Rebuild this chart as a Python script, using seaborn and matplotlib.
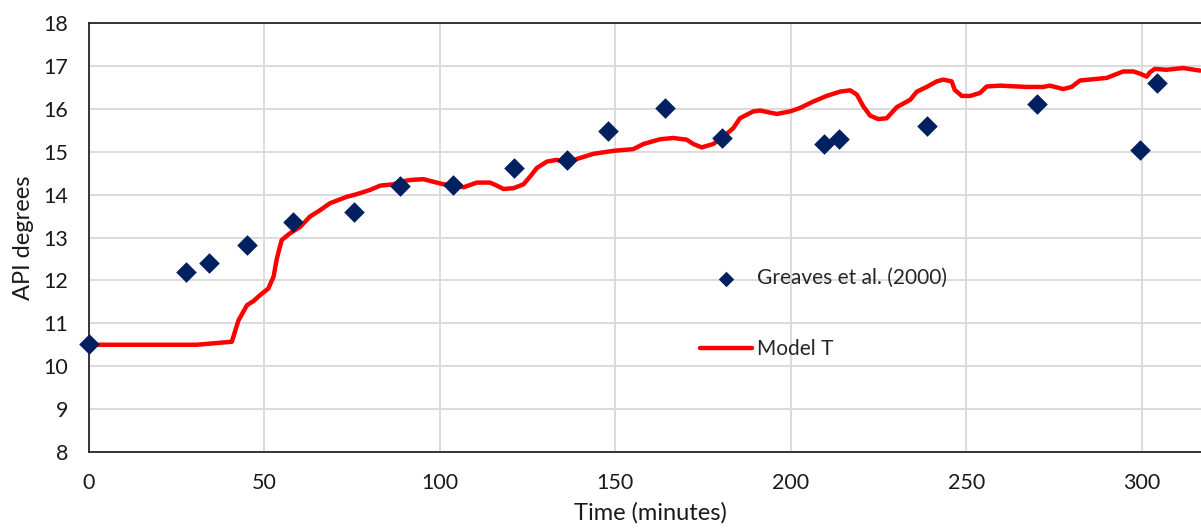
import matplotlib
matplotlib.use("Agg")
import matplotlib.pyplot as plt
import seaborn as sns
import pandas as pd

# Measured API gravity (Greaves et al., 2000)
exp_time = [0.0, 27.7, 34.2, 45.1, 58.2, 75.6, 88.7, 103.8, 121.0, 136.2,
            148.0, 164.2, 180.3, 209.5, 213.7, 238.9, 270.0, 299.4, 304.2]
exp_api = [10.51, 12.19, 12.40, 12.82, 13.36, 13.59, 14.20, 14.22, 14.62, 14.81,
           15.49, 16.03, 15.33, 15.18, 15.29, 15.60, 16.12, 15.03, 16.61]

# Simulated API gravity, Model T
model_time = [0.0, 30.7, 40.7, 42.6, 45.0, 46.9, 48.8, 51.1, 52.6, 53.5, 54.9,
              57.3, 60.2, 63.0, 65.9, 68.7, 73.5, 76.3, 80.1, 83.0, 86.8, 88.6,
              91.5, 95.3, 98.1, 101.0, 103.8, 106.7, 110.5, 114.3, 116.2, 118.1,
              121.0, 123.8, 125.7, 127.6, 130.5, 133.3, 136.2, 139.0, 143.7,
              149.4, 155.1, 158.0, 162.7, 166.5, 170.3, 172.2, 174.6, 177.9,
              180.8, 183.6, 185.5, 189.3, 191.2, 196.0, 199.8, 202.6, 206.4,
              210.2, 214.0, 216.9, 218.8, 220.7, 222.6, 224.9, 227.3, 230.2,
              234.0, 235.9, 238.7, 241.6, 243.4, 245.8, 246.7, 248.7, 251.1,
              253.9, 255.8, 259.6, 267.2, 271.9, 273.8, 277.6, 280.0, 282.4,
              286.2, 290.0, 292.8, 294.7, 297.6, 299.5, 301.4, 302.3, 303.7,
              307.0, 311.8, 316.6]
model_api = [10.50, 10.50, 10.57, 11.07, 11.42, 11.52, 11.66, 11.81, 12.09, 12.50,
             12.94, 13.10, 13.25, 13.49, 13.64, 13.80, 13.95, 14.01, 14.11, 14.21,
             14.24, 14.30, 14.34, 14.36, 14.30, 14.24, 14.23, 14.17, 14.28, 14.28,
             14.21, 14.13, 14.15, 14.24, 14.42, 14.62, 14.77, 14.81, 14.73, 14.83,
             14.95, 15.02, 15.06, 15.18, 15.29, 15.32, 15.28, 15.18, 15.10, 15.18,
             15.35, 15.55, 15.78, 15.94, 15.96, 15.88, 15.94, 16.02, 16.17, 16.30,
             16.40, 16.43, 16.33, 16.05, 15.84, 15.76, 15.78, 16.04, 16.21, 16.40,
             16.51, 16.64, 16.68, 16.64, 16.44, 16.30, 16.30, 16.37, 16.52, 16.54,
             16.51, 16.51, 16.54, 16.46, 16.51, 16.66, 16.69, 16.72, 16.81, 16.87,
             16.87, 16.82, 16.75, 16.85, 16.93, 16.91, 16.95, 16.89]

y_ticks = list(range(8, 19))
x_ticks = [0, 50, 100, 150, 200, 250, 300]

sns.set_theme(style="white")
plt.rcParams["font.family"] = ["Lato", "DejaVu Sans"]

W, H = 1201, 529
fig = plt.figure(figsize=(W / 100, H / 100), dpi=100)
left, right_px, top_px, bottom_px = 89, 1212, 23, 452
ax = fig.add_axes([left / W, 1 - bottom_px / H, (right_px - left) / W,
                   (bottom_px - top_px) / H])

exp_df = pd.DataFrame({"t": exp_time, "api": exp_api})
model_df = pd.DataFrame({"t": model_time, "api": model_api})

sns.lineplot(data=model_df, x="t", y="api", ax=ax, color="#ff0000",
             linewidth=3.2, label="Model T", sort=False, zorder=3)
sns.scatterplot(data=exp_df, x="t", y="api", ax=ax, marker="D", s=110,
                color="#002060", linewidth=0, label="Greaves et al. (2000)",
                zorder=4, clip_on=False)

ax.set_xlim(0, 320)
ax.set_ylim(8, 18)
ax.set_xticks(x_ticks)
ax.set_yticks(y_ticks)
ax.grid(True, color="#d9d9d9", linewidth=1.3)
ax.set_axisbelow(True)
for side in ["left", "top", "bottom", "right"]:
    ax.spines[side].set_color("#262626")
    ax.spines[side].set_linewidth(1.3)
ax.tick_params(axis="both", length=0, labelsize=15.5, labelcolor="#1a1a1a")
ax.tick_params(axis="x", pad=15)
ax.tick_params(axis="y", pad=15)
ax.set_xlabel("Time (minutes)", fontsize=17, color="#1a1a1a", labelpad=7)
ax.set_ylabel("API degrees", fontsize=17, color="#1a1a1a", labelpad=7)

handles, labels = ax.get_legend_handles_labels()
order = [labels.index("Greaves et al. (2000)"), labels.index("Model T")]
leg = ax.legend([handles[i] for i in order], [labels[i] for i in order],
                loc="center left", bbox_to_anchor=((700 - left) / (right_px - left), 0.322),
                frameon=False, fontsize=15, borderaxespad=0, borderpad=0,
                handlelength=2.5, handletextpad=0.25, labelspacing=2.45,
                markerscale=0.75)

fig.savefig("out.png", dpi=100)
